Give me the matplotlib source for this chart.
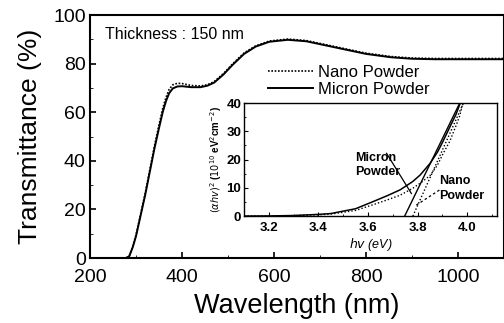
import matplotlib
matplotlib.use("Agg")
import matplotlib.pyplot as plt
import numpy as np

plt.rcParams['font.family'] = ['Liberation Sans', 'DejaVu Sans']

# main spectrum (wavelength nm, transmittance %)
wl = [200, 278, 285, 293, 300, 310, 320, 330, 340, 350, 358, 365, 372, 380, 390,
      400, 420, 440, 455, 470, 490, 510, 535, 560, 590, 630, 670, 725, 800, 855,
      900, 950, 1100]
t_micron = [0, 0, 0.6, 4.5, 9, 17.5, 26, 35.5, 45, 53.5, 60, 64.5, 67.8, 69.8, 70.6,
            70.7, 70.3, 70.3, 70.9, 72.2, 75.5, 79.5, 84, 87, 89, 89.8, 89.2, 87, 84, 82.6,
            82, 81.8, 81.8]
t_nano = [0, 0, 0.7, 4.8, 9.5, 18, 26.7, 36.3, 46, 54.8, 61.5, 66, 69.4, 71.3, 71.9,
          71.8, 71, 70.8, 71.3, 72.6, 75.9, 79.9, 84.4, 87.3, 89.3, 90.1, 89.5, 87.3, 84.3, 82.9,
          82.3, 82.1, 82.1]

# inset (photon energy eV, (ahv)^2)
ev = [3.10, 3.20, 3.30, 3.40, 3.45, 3.55, 3.62, 3.68, 3.73, 3.78, 3.81, 3.85, 3.88,
      3.90, 3.93, 3.955, 3.97, 3.98, 4.00]
a_micron = [0, 0.05, 0.2, 0.6, 0.9, 2.6, 5.1, 7.3, 9.3, 12.2, 14.5, 18.6, 22.6,
            26, 31.5, 36, 39.5, 41.5, 45]
a_nano = [0, 0.05, 0.15, 0.45, 0.7, 2.0, 4.0, 5.8, 7.4, 9.8, 11.6, 14.3, 18,
          21.6, 26.5, 32, 35.5, 39, 44]
fit_micron_x = [3.748, 3.97]
fit_micron_y = [0, 40]
fit_nano_x = [3.781, 3.985]
fit_nano_y = [0, 40]

fig = plt.figure(figsize=(5.04, 3.23), dpi=100)
ax = fig.add_axes([0.1786, 0.2012, 0.8214, 0.7523])
ax.plot(wl, t_nano, color='black', lw=1.2, ls=(0, (1, 1)), label='Nano Powder')
ax.plot(wl, t_micron, color='black', lw=1.4, label='Micron Powder')
ax.set_xlim(200, 1100)
ax.set_ylim(0, 100)
ax.set_xticks([200, 400, 600, 800, 1000])
ax.set_yticks([0, 20, 40, 60, 80, 100])
ax.set_xticks(np.arange(300, 1100, 200), minor=True)
ax.set_yticks(np.arange(10, 100, 20), minor=True)
ax.tick_params(direction='in', labelsize=14, width=1.2, length=4, pad=3)
ax.tick_params(axis='x', pad=8)
ax.tick_params(which='minor', direction='in', length=2.5)
for s in ax.spines.values():
    s.set_linewidth(1.5)
ax.set_xlabel('Wavelength (nm)', fontsize=19.5, labelpad=5)
ax.set_ylabel('Transmittance (%)', fontsize=19, labelpad=8)
ax.text(0.035, 0.9, 'Thickness : 150 nm', transform=ax.transAxes, fontsize=11.5)
ax.legend(loc='upper left', bbox_to_anchor=(0.41, 0.83), frameon=False, fontsize=12,
          handlelength=2.7, handletextpad=0.3, labelspacing=0.15, borderpad=0)

ins = fig.add_axes([0.484, 0.331, 0.502, 0.35])
ins.plot(ev, a_micron, color='black', lw=1.1)
ins.plot(ev, a_nano, color='black', lw=1.0, ls=(0, (1, 1.5)))
ins.plot(fit_micron_x, fit_micron_y, color='black', lw=1.0)
ins.plot(fit_nano_x, fit_nano_y, color='black', lw=1.0, ls=(0, (1, 1.5)))
ins.set_xlim(3.1, 4.12)
ins.set_ylim(0, 40)
ins.set_xticks([3.2, 3.4, 3.6, 3.8, 4.0])
ins.set_xticklabels(['3.2', '3.4', '3.6', '3.8', '4.0'])
ins.set_yticks([0, 10, 20, 30, 40])
ins.set_xticks(np.arange(3.1, 4.12, 0.1), minor=True)
ins.set_yticks([5, 15, 25, 35], minor=True)
ins.tick_params(direction='in', labelsize=9.5, length=3, pad=4)
ins.tick_params(axis='y', pad=2)
ins.tick_params(which='minor', direction='in', length=1.5)
for lab in ins.get_xticklabels() + ins.get_yticklabels():
    lab.set_fontweight('bold')
for s in ins.spines.values():
    s.set_linewidth(1.0)
ins.set_xlabel(r'$hv$ (eV)', fontsize=9, labelpad=2, style='italic')
ins.set_ylabel(r'$(\alpha hv)^2$ ($10^{10}$ eV$^2$cm$^{-2}$)', fontsize=7, labelpad=2,
               fontweight='bold')
ins.text(3.548, 14.5, 'Micron\nPowder', fontsize=9, linespacing=1.25, fontweight='bold')
ins.plot([3.675, 3.775], [22.2, 8.0], color='black', lw=0.9)
ins.text(3.888, 6.2, 'Nano\nPowder', fontsize=9, linespacing=1.25, fontweight='bold')
ins.plot([3.888, 3.795], [9.2, 3.9], color='black', lw=0.9, ls=(0, (2, 2)))

fig.savefig('out.png', dpi=100)
